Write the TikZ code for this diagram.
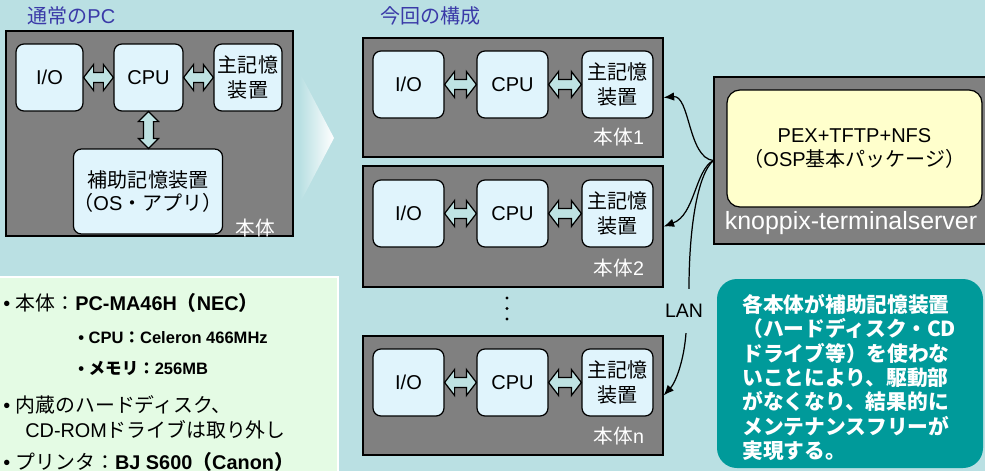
\documentclass[tikz,border=0pt]{standalone}
\usepackage{fontspec}
\setmainfont{Liberation Sans}
\newfontfamily\jpfont{Noto Sans CJK JP}
\usetikzlibrary{calc,arrows.meta}

\definecolor{bgteal}{HTML}{BAE0E3}
\definecolor{unitgray}{HTML}{808080}
\definecolor{partblue}{HTML}{E0F4FC}
\definecolor{linkfill}{HTML}{BFE3E3}
\definecolor{titleblue}{HTML}{3A3AA8}
\definecolor{pkgyellow}{HTML}{FFFFCC}
\definecolor{notegreen}{HTML}{E4FBE4}
\definecolor{calloutteal}{HTML}{009A9A}

% Japanese run inside Latin text
\newcommand\JA[1]{{\jpfont #1}}

% horizontal two-headed block arrow between two part boxes
\newcommand\hlink[2]{%
  \path[blockarrow] let \p1=(#1.east), \p2=(#2.west) in
    (\x1,\y1) -- (\x1+2mm,\y1+2.6mm) -- (\x1+2mm,\y1+1mm) -- (\x2-2mm,\y1+1mm)
    -- (\x2-2mm,\y1+2.6mm) -- (\x2,\y1) -- (\x2-2mm,\y1-2.6mm) -- (\x2-2mm,\y1-1mm)
    -- (\x1+2mm,\y1-1mm) -- (\x1+2mm,\y1-2.6mm) -- cycle;}
% vertical two-headed block arrow between two part boxes
\newcommand\vlink[2]{%
  \path[blockarrow] let \p1=(#1.south), \p2=(#2.north) in
    (\x1,\y1) -- (\x1+2mm,\y1-2mm) -- (\x1+1mm,\y1-2mm) -- (\x1+1mm,\y2+2mm)
    -- (\x1+2mm,\y2+2mm) -- (\x1,\y2) -- (\x1-2mm,\y2+2mm) -- (\x1-1mm,\y2+2mm)
    -- (\x1-1mm,\y1-2mm) -- (\x1-2mm,\y1-2mm) -- cycle;}

\tikzset{
  unit/.style={draw=black, fill=unitgray, line width=0.7pt, inner sep=0pt},
  part/.style={draw=black, fill=partblue, rounded corners=1.6mm, line width=0.7pt,
    inner sep=0pt, align=center, font=\fontsize{11.4}{14.2}\selectfont,
    minimum height=13.4mm},
  unitlabel/.style={text=white, font=\fontsize{11.2}{14}\selectfont, inner sep=0pt},
  title/.style={text=titleblue, font=\fontsize{11.4}{14}\selectfont, anchor=west, inner sep=0pt},
  blockarrow/.style={draw=black, fill=linkfill, line width=0.7pt, line join=miter},
  lanlink/.style={draw=black, line width=0.7pt},
  lanarrow/.style={lanlink, -{Latex[length=2.1mm,width=1.7mm]}},
  note/.style={anchor=west, inner sep=0pt, font=\fontsize{11.3}{14}\selectfont},
  subnote/.style={anchor=west, inner sep=0pt, font=\fontsize{9.4}{12}\selectfont\bfseries},
}

\begin{document}
\begin{tikzpicture}[x=0.2mm, y=-0.2mm]
\useasboundingbox (0,0) rectangle (985,471);
\clip (0,0) rectangle (985,471);
\fill[bgteal] (0,0) rectangle (985,471);

% ---------- conventional PC ----------
\node[title] (titleA) at (27,16) {\JA{通常の}PC};
\node[unit, minimum width=57.4mm, minimum height=41mm] (pcA) at (149.5,133.5) {};
\node[part, minimum width=13.4mm] (ioA)  at (49.5,77.5) {I/O};
\node[part, minimum width=13.8mm] (cpuA) at (148.5,77.5) {CPU};
\node[part, minimum width=13.6mm] (memA) at (248,77.5) {\JA{主記憶}\\\JA{装置}};
\node[part, minimum width=26mm, minimum height=17mm, font=\fontsize{11.4}{13}\selectfont]
  (auxA) at (148,191.5) {\JA{補助記憶装置}\\\JA{（}OS\JA{・アプリ）}};
\node[unitlabel] (lblA) at (255,228) {\JA{本体}};
\hlink{ioA}{cpuA}
\hlink{cpuA}{memA}
\vlink{cpuA}{auxA}

% ---------- transition chevron ----------
\shade[left color=bgteal, right color=white] (300,73) -- (334,138) -- (300,203) -- cycle;

% ---------- this setup: diskless units ----------
\node[title] (titleB) at (380,16) {\JA{今回の構成}};

\node[unit, minimum width=60mm, minimum height=23.8mm] (pc1) at (513,97.5) {};
\node[part, minimum width=14.2mm] (io1)  at (408.5,84.5) {I/O};
\node[part, minimum width=14.2mm] (cpu1) at (512.5,84.5) {CPU};
\node[part, minimum width=14.2mm] (mem1) at (617.5,84.5) {\JA{主記憶}\\\JA{装置}};
\node[unitlabel] (lbl1) at (619,137) {\JA{本体}1};
\hlink{io1}{cpu1}
\hlink{cpu1}{mem1}

\node[unit, minimum width=60mm, minimum height=24.2mm] (pc2) at (513,226.5) {};
\node[part, minimum width=14.2mm] (io2)  at (408.5,213.5) {I/O};
\node[part, minimum width=14.2mm] (cpu2) at (512.5,213.5) {CPU};
\node[part, minimum width=14.2mm] (mem2) at (617.5,213.5) {\JA{主記憶}\\\JA{装置}};
\node[unitlabel] (lbl2) at (619,268) {\JA{本体}2};
\hlink{io2}{cpu2}
\hlink{cpu2}{mem2}

% vertical ellipsis between unit 2 and unit n
\foreach \dy in {298,308.5,319} \fill[black] (507,\dy) circle (0.32mm);

\node[unit, minimum width=60mm, minimum height=23.8mm] (pcn) at (513,395.5) {};
\node[part, minimum width=14.2mm] (ion)  at (408.5,382.5) {I/O};
\node[part, minimum width=14.2mm] (cpun) at (512.5,382.5) {CPU};
\node[part, minimum width=14.2mm] (memn) at (617.5,382.5) {\JA{主記憶}\\\JA{装置}};
\node[unitlabel] (lbln) at (619,436) {\JA{本体}n};
\hlink{ion}{cpun}
\hlink{cpun}{memn}

% ---------- terminal server ----------
\node[unit, minimum width=55.6mm, minimum height=33.4mm] (srv) at (853,160.5) {};
\node[draw=black, fill=pkgyellow, rounded corners=2.6mm, line width=0.7pt,
  minimum width=51mm, minimum height=23.4mm, align=center, inner sep=0pt,
  font=\fontsize{11.4}{13.2}\selectfont] (pkg) at (854.5,148.5)
  {PEX+TFTP+NFS\\\JA{（}OSP\JA{基本パッケージ）}};
\node[text=white, inner sep=0pt, font=\fontsize{14.2}{16}\selectfont] (srvname)
  at (851,223) {knoppix-terminalserver};

% ---------- LAN links ----------
\node[inner xsep=0pt, inner ysep=3mm, font=\fontsize{11.1}{13}\selectfont] (lan) at (684,311) {LAN};
\draw[lanarrow] (srv.west) .. controls (688,158) and (690,95) .. (pc1.east);
\draw[lanarrow] (srv.west) .. controls (695,170) and (695,215) .. (pc2.east);
\draw[lanlink] (srv.west) .. controls (697,175) and (689,230) .. ([xshift=1mm]lan.north);
\draw[lanarrow] ([xshift=0.4mm]lan.south) .. controls (684,360) and (676,382) .. (pcn.east);

% ---------- hardware notes ----------
\draw[draw=white, line width=0.8pt, fill=notegreen] (-5,277) rectangle (338,490);
\node[note] (n1) at (3,303) {• \JA{本体：}\textbf{PC-MA46H\JA{（}NEC\JA{）}}};
\node[subnote] (n2) at (78,338) {• CPU\JA{：}Celeron 466MHz};
\node[subnote] (n3) at (78,368) {• \JA{メモリ：}256MB};
\node[note] (n4) at (3,405) {• \JA{内蔵のハードディスク、}};
\node[note] (n5) at (25,430) {CD-ROM\JA{ドライブは取り外し}};
\node[note] (n6) at (3,462) {• \JA{プリンタ：}\textbf{BJ S600\JA{（}Canon\JA{）}}};

% ---------- callout ----------
\fill[calloutteal, rounded corners=4mm] (717,279) rectangle (983,468);
\node[anchor=west, inner sep=0pt, align=left, text=white,
  font=\fontsize{11.8}{13.9}\selectfont\jpfont\bfseries] (callout) at (742,377.5)
  {各本体が補助記憶装置\\（ハードディスク・CD\\ドライブ等）を使わな\\いことにより、駆動部\\がなくなり、結果的に\\メンテナンスフリーが\\実現する。};
\end{tikzpicture}
\end{document}
